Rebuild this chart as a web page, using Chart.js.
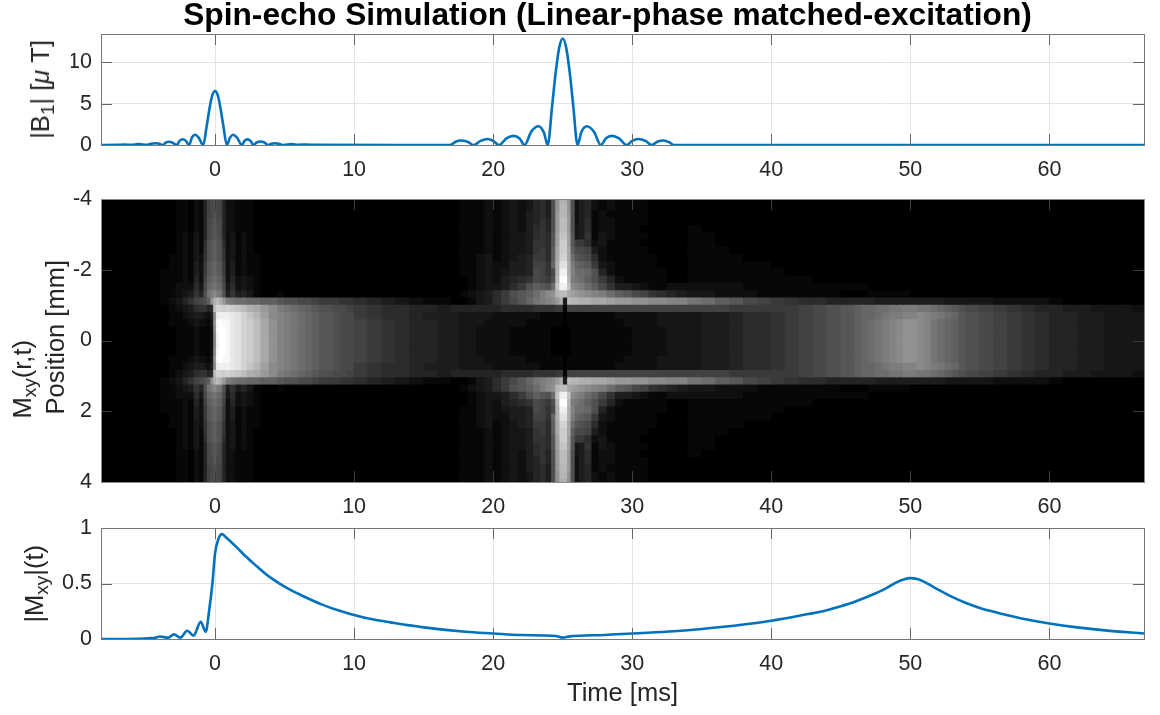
<!DOCTYPE html>
<html>
<head>
<meta charset="utf-8">
<title>Spin-echo Simulation</title>
<script src="https://cdn.jsdelivr.net/npm/chart.js@4"></script>
<style>
  html, body { margin: 0; padding: 0; background: #fff; }
  #page { position: relative; width: 1160px; height: 715px; overflow: hidden; }
  canvas { position: absolute; left: 0; }
  .ylabel {
    position: absolute; writing-mode: vertical-rl; transform: rotate(180deg);
    font: 25.5px "Liberation Sans", Arial, sans-serif; color: #262626; white-space: nowrap; line-height: 26px;
  }
  .ylabel sub { font-size: 19px; line-height: 0; vertical-align: -8px; }
</style>
</head>
<body>
<div id="page">
  <canvas id="pulse" width="1160" height="195" style="top:0;width:1160px;height:195px"></canvas>
  <canvas id="image" width="1160" height="330" style="top:185px;width:1160px;height:330px"></canvas>
  <canvas id="signal" width="1160" height="200" style="top:515px;width:1160px;height:200px"></canvas>
  <div class="ylabel" style="left:27px;top:40px">|B<sub>1</sub>| [<i>μ</i> T]</div>
  <div class="ylabel" style="left:9px;top:340px">M<sub>xy</sub>(r,t)</div>
  <div class="ylabel" style="left:42px;top:260px">Position [mm]</div>
  <div class="ylabel" style="left:21px;top:545px">|M<sub>xy</sub>|(t)</div>
</div>
<script>
const xTicks = [0, 10, 20, 30, 40, 50, 60];
const pulseYTicks = [0, 5, 10];
const imageYTicks = [-4, -2, 0, 2, 4];
const signalYTicks = [0, 0.5, 1];

const b1Times = [-8.2, -7, -6.5, -6, -5.5, -4.9, -4.6, -4.3, -4, -3.76, -3.55, -3.3, -3.05, -2.76, -2.55, -2.32, -2.1, -1.87, -1.65, -1.42, -1.18, -0.85,
  -0.6, -0.4, -0.2, 0, 0.2, 0.4, 0.6, 0.85, 1.08, 1.3, 1.6, 1.92, 2.12, 2.33, 2.55, 2.76, 3, 3.3, 3.55, 3.84, 4.05, 4.3, 4.6, 4.9, 5.5, 6, 6.6, 7.2,
  16.9, 17.3, 17.68, 18.15, 18.6, 19.1, 19.6, 20, 20.43, 20.95, 21.47, 21.9, 22.26, 22.75, 23.26, 23.65, 23.92,
  24.25, 24.5, 24.75, 25, 25.25, 25.5, 25.75, 26.07, 26.35, 26.74, 27.25, 27.74, 28.1, 28.53, 29.05, 29.6, 30, 30.45, 30.95, 31.4, 31.8, 32.25, 32.65, 33, 66.8];
const b1Values = [0, 0.02, 0.05, 0.02, 0.1, 0.01, 0.15, 0.22, 0.15, 0, 0.28, 0.4, 0.28, 0, 0.5, 0.7, 0.5, 0, 0.95, 1.25, 0.9, 0,
  2.3, 4.4, 6, 6.55, 6, 4.4, 2.3, 0, 0.9, 1.25, 0.85, 0, 0.5, 0.68, 0.5, 0, 0.3, 0.42, 0.3, 0, 0.15, 0.22, 0.15, 0, 0.1, 0.03, 0.05, 0.01,
  0, 0.4, 0.55, 0.4, 0, 0.5, 0.72, 0.5, 0, 0.8, 1.1, 0.8, 0, 1.65, 2.27, 1.5, 0,
  4.9, 8.85, 11.8, 12.9, 11.8, 8.85, 4.9, 0, 1.6, 2.27, 1.6, 0, 0.8, 1.1, 0.8, 0, 0.5, 0.72, 0.5, 0, 0.4, 0.55, 0.35, 0, 0];

const mxyTimes = [-8.2, -5.5, -4.6, -4.3, -3.96, -3.36, -2.96, -2.5, -2, -1.55, -1.03, -0.67, -0.43, -0.19, 0, 0.24, 0.5, 0.84, 1.56, 2.16, 3, 3.6, 4.2, 5.16, 6.35, 7.8, 9.2, 10.2, 11.4, 12.6,
  15, 18, 20, 22, 24.5, 25, 25.5, 28, 30, 33, 35, 38, 40, 42, 44, 45, 46, 47, 48, 48.5, 49, 49.5, 50, 50.5, 51, 51.5, 52, 53, 54, 55, 56, 57, 58, 60, 62, 64, 66.8];
const mxyValues = [0, 0.002, 0.008, 0.012, 0.022, 0.012, 0.042, 0.012, 0.075, 0.03, 0.154, 0.066, 0.25, 0.5, 0.77, 0.9, 0.945, 0.91, 0.825, 0.75, 0.655, 0.59, 0.535, 0.46, 0.385, 0.305, 0.245, 0.21, 0.175, 0.15,
  0.105, 0.065, 0.05, 0.036, 0.027, 0.012, 0.024, 0.036, 0.05, 0.07, 0.09, 0.13, 0.165, 0.21, 0.26, 0.295, 0.335, 0.385, 0.44, 0.475, 0.51, 0.535, 0.548, 0.54, 0.515, 0.48, 0.445, 0.38, 0.325, 0.28, 0.245, 0.213, 0.185, 0.14, 0.105, 0.078, 0.05];

// column edges of the Mxy image, ms
const columnEdges = [-8.2, -4.5, -3.9, -3.3, -2.8, -2.3, -1.9, -1.5, -1.1, -0.8, -0.55, -0.3, -0.1, 0.1, 0.3, 0.55, 0.8, 1.1, 1.5, 1.9, 2.3, 2.8, 3.3, 3.9, 4.5,
  5, 5.5, 6, 6.5, 7, 7.5, 8, 8.5, 9, 9.5, 10, 11, 12, 13, 14, 15, 16, 17,
  17.6, 18.2, 18.8, 19.4, 20, 20.6, 21.2, 21.8, 22.4, 22.9, 23.4, 23.8, 24.2, 24.5, 24.8, 25.05, 25.35, 25.6, 25.9, 26.2, 26.6, 27.1, 27.6, 28.2, 28.8, 29.4, 30, 30.6, 31.2, 31.8, 32.5, 33.2, 34,
  35, 36, 37, 38, 39, 40, 41, 42, 43, 44, 45, 45.5, 46, 46.5, 47, 47.5, 48, 48.5, 49, 49.5, 50, 50.5, 51, 51.5, 52, 52.5, 53, 53.5, 54, 55, 56, 57, 58, 59, 60, 61, 62, 63, 64, 65, 66, 66.8];

// row centres, mm
const rowPositions = [-4, -3.795, -3.59, -3.385, -3.179, -2.974, -2.769, -2.564, -2.359, -2.154, -1.949, -1.744, -1.538, -1.333, -1.128, -0.923, -0.718, -0.513, -0.308, -0.103,
  0.103, 0.308, 0.513, 0.718, 0.923, 1.128, 1.333, 1.538, 1.744, 1.949, 2.154, 2.359, 2.564, 2.769, 2.974, 3.179, 3.385, 3.59, 3.795, 4];

// brightness per cell, one base-36 digit (0 black, z white), spaces only group the columns.
// the picture is mirrored about 0 mm so only the top half is listed
const topHalfCells = [
  "0 00011021 59aba95 22111000 00000000000 0000000 0111212323 564bko okb2452 1211110000 00000000000 000000000000000000 0000000000000",
  "0 00011021 59aba95 22111000 00000000000 0000000 0111212323 564bkp pkb2452 1211110000 00000000000 000000000000000000 0000000000000",
  "0 00011021 59aba95 22111000 00000000000 0000000 0111212324 564blp plb2451 2111110000 00000000000 000000000000000000 0000000000000",
  "0 00011021 5aacaa5 22111000 00000000000 0000000 0111212324 575blq qlb2461 2211110000 00000000000 000000000000000000 0000000000000",
  "0 00011021 5abcba5 22111000 00000000000 0000000 0111212324 675blq qlb3461 2211100000 10000000000 000000000000000000 0000000000000",
  "0 00012131 5abcba5 23121000 00000000000 0000000 0111212334 676cmr rmc3471 3211110000 11000000000 000000000000000000 0000000000000",
  "0 00012131 6bcdcb6 23121000 00000000000 0000000 0111212334 776cms smc8862 3111100000 11000000000 000000000000000000 0000000000000",
  "0 00012131 7bcdcb7 23121000 00000000000 0000000 0111212334 786dns sndaa94 2111110000 11100000000 000000000000000000 0000000000000",
  "0 00112132 7bcdcb7 23121100 00000000000 0000000 0112312345 886dnt tnfcba6 2111111000 11110000000 000000000000000000 0000000000000",
  "0 00112142 8cdedc8 24121100 00000000000 0000000 0112322445 997eov vohedc8 3211111000 11111100000 000000000000000000 0000000000000",
  "0 01112142 8cdedc8 24121100 00000000000 0000000 0112323445 a97aox xoiffeb 5211111100 11111110000 000000000000000000 0000000000000",
  "0 01112152 9defed9 25232100 00000000000 0000000 0012324567 a98bpz zphgfdb 8521111100 11111111100 000000000000000000 0000000000000",
  "0 01122263 aefgfea 36232100 00000000000 0000000 001233468b dcbfrx xrjihfd a744321122 22221111111 111100000000000000 0000000000000",
  "0 01123475 bghjhgb 47453100 10000000000 0000000 0123468bcd fhjkpq qnmlkji hfdca97654 33222111111 000011111100000000 0000000000000",
  "0 0123579a bdkoqol hgffeedd cbbaa988877 6543211 0013468ace ghijlo 4qppoon nmllkkjjii gfdca987665 555554444444444333 3322221000000",
  "0 00123467 756qtts tsrqonlj hgfedcbbaa9 8766554 5555556666 777788 1999999 9999999999 999888889ab ccdeeffgghhggfedcb a987655443332",
  "0 00112344 324jwxx xwvtrpmj ihgfedccbaa 8766544 4333322222 211111 0111111 1122222333 344566789ab ccdeefghhiijihgfec ba98765544333",
  "0 00111232 213kyzy ywvtsqnk ihgfedccbaa 9876554 4333222221 111111 0111111 1112222333 344566789ab ccdefghijkkjigfedc ba98765544333",
  "0 00011121 112jyzz ywvtsqnk ihgfedccbaa 9876554 4332222111 111000 0011111 1111222233 344566789ab ccdefghijkkjigfedc ba98765544333",
  "0 00011121 112ixzz ywvtsqnk ihgfedccbaa 9876554 4332222111 111000 0011111 1111222233 344566789ab ccdefghijkkjigfedc ba98765544333"
];

const imageCells = topHalfCells.concat(topHalfCells.slice().reverse()).map(r => r.replace(/ /g, ''));

const FONT = 'Liberation Sans';
const TEXT = '#262626';
const BLUE = '#0072BD';
const X_MIN = -8.2, X_MAX = 66.8;

function toPoints(xs, ys) {
  return xs.map((x, i) => ({ x: x, y: ys[i] }));
}

function cellColor(ch) {
  const g = Math.round(parseInt(ch, 36) / 35 * 255);
  return 'rgb(' + g + ',' + g + ',' + g + ')';
}

// black behind the image so no seams show between the cells
const blackBack = {
  id: 'blackBack',
  beforeDatasetsDraw(chart, args, opts) {
    if (!opts.on) return;
    const a = chart.chartArea;
    chart.ctx.fillStyle = '#000';
    chart.ctx.fillRect(a.left, a.top, a.width, a.height);
  }
};

// MATLAB style box with ticks pointing inwards on all four sides
const boxTicks = {
  id: 'boxTicks',
  afterDraw(chart, args, opts) {
    const { ctx, chartArea: a, scales } = chart;
    const len = 11;
    ctx.save();
    ctx.lineWidth = 1;
    ctx.strokeStyle = opts.tickColor;
    ctx.beginPath();
    scales.x.ticks.forEach(t => {
      const p = Math.round(scales.x.getPixelForValue(t.value)) + 0.5;
      ctx.moveTo(p, a.top); ctx.lineTo(p, a.top + len);
      ctx.moveTo(p, a.bottom); ctx.lineTo(p, a.bottom - len);
    });
    scales.y.ticks.forEach(t => {
      const p = Math.round(scales.y.getPixelForValue(t.value)) + 0.5;
      ctx.moveTo(a.left, p); ctx.lineTo(a.left + len, p);
      ctx.moveTo(a.right, p); ctx.lineTo(a.right - len, p);
    });
    ctx.stroke();
    ctx.strokeStyle = opts.boxColor;
    ctx.strokeRect(Math.round(a.left) + 0.5, Math.round(a.top) + 0.5, Math.round(a.width), Math.round(a.height));
    ctx.restore();
  }
};

function xScale(height, withGrid, title) {
  return {
    type: 'linear', min: X_MIN, max: X_MAX,
    afterBuildTicks: s => { s.ticks = xTicks.map(v => ({ value: v })); },
    afterFit: s => { s.height = height; s.paddingLeft = 0; s.paddingRight = 0; },
    grid: { display: withGrid, color: '#e4e4e4', drawTicks: false, offset: false },
    border: { display: false },
    ticks: { color: TEXT, font: { family: FONT, size: 21.5 }, padding: 12, maxRotation: 0, autoSkip: false, callback: v => String(v) },
    title: title ? { display: true, text: title, color: TEXT, font: { family: FONT, size: 25.5 }, padding: { top: 0, bottom: 6 } } : { display: false }
  };
}

function yScale(min, max, tickList, width, withGrid, extra) {
  return Object.assign({
    type: 'linear', min: min, max: max,
    afterBuildTicks: s => { s.ticks = tickList.map(v => ({ value: v })); },
    afterFit: s => { s.width = width; s.paddingTop = 0; s.paddingBottom = 0; },
    grid: { display: withGrid, color: '#e4e4e4', drawTicks: false, offset: false },
    border: { display: false },
    ticks: { color: TEXT, font: { family: FONT, size: 21.5 }, padding: 9, autoSkip: false, callback: v => String(v) }
  }, extra || {});
}

function lineChart(id, xs, ys, yMin, yMax, tickList, layout, xOpts, extraPlugins) {
  return new Chart(document.getElementById(id), {
    type: 'line',
    data: {
      datasets: [{
        data: toPoints(xs, ys),
        borderColor: BLUE,
        borderWidth: 2.6,
        pointRadius: 0,
        cubicInterpolationMode: 'monotone'
      }]
    },
    options: {
      responsive: false,
      animation: false,
      layout: { autoPadding: false, padding: layout.padding },
      scales: { x: xOpts, y: yScale(yMin, yMax, tickList, layout.yWidth, true) },
      plugins: Object.assign({
        legend: { display: false },
        tooltip: { enabled: false },
        boxTicks: { tickColor: '#666666', boxColor: '#777777' }
      }, extraPlugins || {})
    },
    plugins: [boxTicks]
  });
}

lineChart('pulse', b1Times, b1Values, 0, 13.45, pulseYTicks,
  { padding: { left: 71, right: 16, top: 0, bottom: 0 }, yWidth: 30 },
  xScale(50, true),
  {
    title: {
      display: true,
      text: 'Spin-echo Simulation (Linear-phase matched-excitation)',
      color: '#000',
      font: { family: FONT, size: 31.7, weight: 'bold', lineHeight: 1 },
      padding: { top: 0, bottom: 2.3 }
    }
  });

new Chart(document.getElementById('image'), {
  type: 'bar',
  data: {
    datasets: imageCells.map((cells, r) => ({
      data: cells.split('').map((ch, c) => ({ y: rowPositions[r], x: [columnEdges[c], columnEdges[c + 1]] })),
      backgroundColor: cells.split('').map(cellColor)
    }))
  },
  options: {
    indexAxis: 'y',
    responsive: false,
    animation: false,
    layout: { autoPadding: false, padding: { left: 0, right: 16, top: 14, bottom: 0 } },
    datasets: { bar: { grouped: false, barPercentage: 1, categoryPercentage: 1, borderWidth: 0, inflateAmount: 0.5 } },
    scales: {
      x: xScale(33, false),
      y: yScale(-4, 4, imageYTicks, 101, false, { reverse: true, offset: false })
    },
    plugins: {
      legend: { display: false },
      tooltip: { enabled: false },
      blackBack: { on: true },
      boxTicks: { tickColor: '#3c3c3c', boxColor: '#8a8a8a' }
    }
  },
  plugins: [blackBack, boxTicks]
});

lineChart('signal', mxyTimes, mxyValues, 0, 1, signalYTicks,
  { padding: { left: 0, right: 16, top: 13, bottom: 0 }, yWidth: 101 },
  xScale(76, true, 'Time [ms]'));
</script>
</body>
</html>
